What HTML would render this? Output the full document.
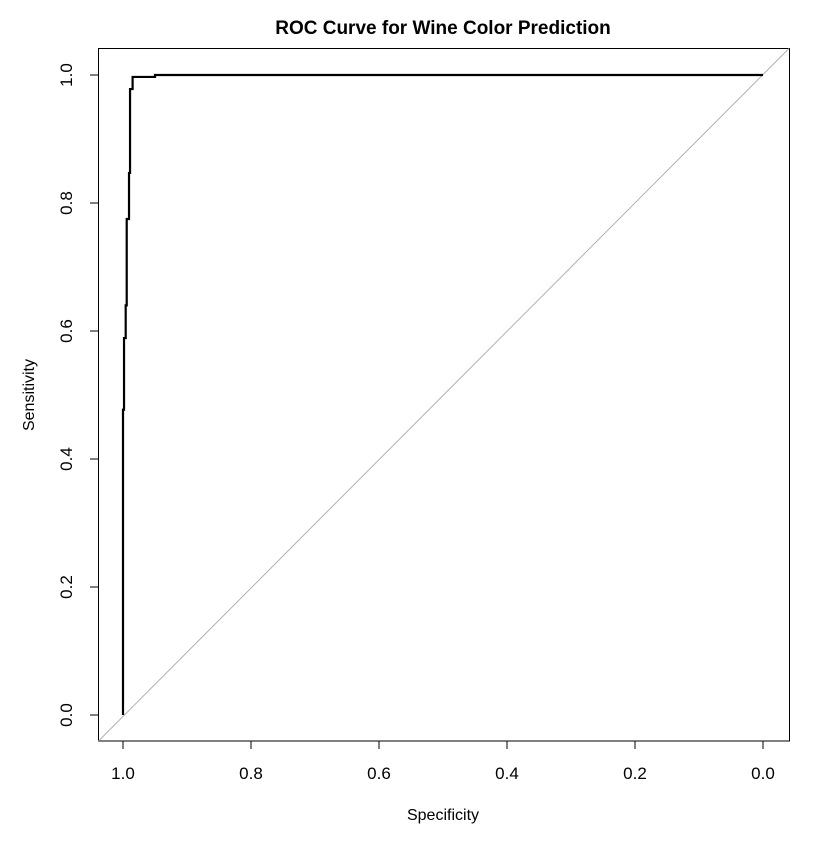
<!DOCTYPE html>
<html><head><meta charset="utf-8"><style>
body{margin:0;background:#fff;}
text{font-family:"Liberation Sans",Arial,sans-serif;fill:#000;}
</style></head><body>
<svg id="chart" width="840" height="840" viewBox="0 0 840 840">
<rect width="840" height="840" fill="#fff"/>
<text x="443" y="34" font-size="19" font-weight="bold" text-anchor="middle">ROC Curve for Wine Color Prediction</text>
<rect x="98.5" y="48.5" width="691" height="692.5" fill="none" stroke="#000" stroke-width="1"/>
<g id="xaxis"></g>
<g id="yaxis"></g>
<text x="443" y="820" font-size="16" text-anchor="middle">Specificity</text>
<text transform="translate(34,395) rotate(-90)" font-size="16" text-anchor="middle">Sensitivity</text>
<g id="marks"></g>
</svg>
<script>
const xTicks=[1.0,0.8,0.6,0.4,0.2,0.0];
const yTicks=[0.0,0.2,0.4,0.6,0.8,1.0];
const specificity=[1.0,1.0,0.9984,0.9984,0.9958,0.9958,0.9942,0.9942,0.9906,0.9906,0.989,0.989,0.985,0.985,0.95,0.95,0.0];
const sensitivity=[0.0,0.477,0.477,0.589,0.589,0.64,0.64,0.775,0.775,0.847,0.847,0.978,0.978,0.997,0.997,1.0,1.0];
const NS="http://www.w3.org/2000/svg";
const sx=v=>763-v*640, sy=v=>715-v*640;
function mk(tag,attrs,parent){const e=document.createElementNS(NS,tag);for(const k in attrs)e.setAttribute(k,attrs[k]);parent.appendChild(e);return e;}
const xa=document.getElementById('xaxis'), ya=document.getElementById('yaxis'), marks=document.getElementById('marks');
mk('line',{x1:sx(1),x2:sx(0),y1:741,y2:741,stroke:'#000'},xa);
xTicks.forEach(t=>{
 const l=mk('line',{x1:sx(t),x2:sx(t),y1:741,y2:749,stroke:'#000'},xa);
 
 
 const tx=mk('text',{x:sx(t),y:779,'font-size':17,'text-anchor':'middle'},xa);tx.textContent=t.toFixed(1);
 
 
});
yTicks.forEach(t=>{
 const l=mk('line',{x1:90,x2:98.5,y1:sy(t),y2:sy(t),stroke:'#000'},ya);
 
 
 const tx=mk('text',{transform:`translate(72,${sy(t)}) rotate(-90)`,'font-size':17,'text-anchor':'middle'},ya);tx.textContent=t.toFixed(1);
 
 
});
const diag=mk('line',{x1:98.5,y1:741,x2:789,y2:48.5,stroke:'#b0b0b0','stroke-width':1},marks);


const pts=specificity.map((s,i)=>sx(s)+','+sy(sensitivity[i])).join(' ');
const curve=mk('polyline',{points:pts,fill:'none',stroke:'#000','stroke-width':2.2},marks);


</script>
</body></html>
